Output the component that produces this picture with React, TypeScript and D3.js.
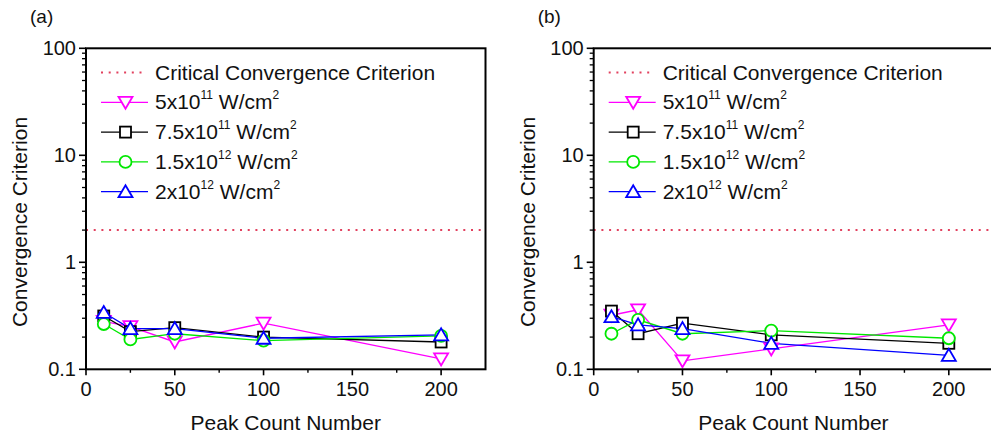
import React from 'react';
import * as d3 from 'd3';

// ---- data ----
const peakCounts = [10, 25, 50, 100, 200];
const xMajorTicks = [0, 50, 100, 150, 200];
const xMinorTicks = [25, 75, 125, 175];
const yMajorTicks = [0.1, 1, 10, 100];
const yTickLabels = ['0.1', '1', '10', '100'];
const criticalValue = 2;

const seriesKeys = ['5e11', '7.5e11', '1.5e12', '2e12'];
const seriesMantissa = ['5', '7.5', '1.5', '2'];
const seriesExponent = ['11', '11', '12', '12'];
const seriesColors = ['#ff00ff', '#000000', '#00e800', '#0000ff'];
const seriesMarkers = ['down', 'square', 'circle', 'up'];

const panelA_5e11 = [0.28, 0.25, 0.18, 0.27, 0.125];
const panelA_7_5e11 = [0.315, 0.225, 0.245, 0.2, 0.18];
const panelA_1_5e12 = [0.265, 0.19, 0.215, 0.185, 0.205];
const panelA_2e12 = [0.34, 0.24, 0.24, 0.195, 0.21];

const panelB_5e11 = [0.32, 0.36, 0.12, 0.155, 0.26];
const panelB_7_5e11 = [0.35, 0.215, 0.27, 0.21, 0.175];
const panelB_1_5e12 = [0.215, 0.29, 0.215, 0.23, 0.195];
const panelB_2e12 = [0.31, 0.26, 0.24, 0.175, 0.135];

const panels = [
  { label: '(a)', left: 86, series: [panelA_5e11, panelA_7_5e11, panelA_1_5e12, panelA_2e12] },
  { label: '(b)', left: 593.7, series: [panelB_5e11, panelB_7_5e11, panelB_1_5e12, panelB_2e12] },
];

const FONT = '"Liberation Sans", Arial, Helvetica, sans-serif';
const TOP = 48.3;
const BOTTOM = 369.3;
const PLOT_W = 399.5;
const CRIT_COLOR = '#e2405e';

function Marker({ type, x, y, color }: { type: string; x: number; y: number; color: string }) {
  const sw = 1.8;
  if (type === 'square') {
    return <rect x={x - 5.5} y={y - 5.5} width={11} height={11} fill="#fff" stroke={color} strokeWidth={sw} />;
  }
  if (type === 'circle') {
    return <circle cx={x} cy={y} r={6} fill="#fff" stroke={color} strokeWidth={sw} />;
  }
  if (type === 'down') {
    return (
      <polygon
        points={`${x - 7},${y - 5.5} ${x + 7},${y - 5.5} ${x},${y + 6.5}`}
        fill="#fff"
        stroke={color}
        strokeWidth={sw}
        strokeLinejoin="miter"
      />
    );
  }
  return (
    <polygon
      points={`${x - 7},${y + 5.5} ${x + 7},${y + 5.5} ${x},${y - 6.5}`}
      fill="#fff"
      stroke={color}
      strokeWidth={sw}
    />
  );
}

function Panel({ p }: { p: (typeof panels)[number] }) {
  const x = d3.scaleLinear().domain([0, 225]).range([p.left, p.left + PLOT_W]);
  const y = d3.scaleLog().domain([0.1, 100]).range([BOTTOM, TOP]);
  const yMinor: number[] = [];
  [0.1, 1, 10].forEach((d) => {
    for (let k = 2; k <= 9; k++) yMinor.push(k * d);
  });
  const line = d3
    .line<number>()
    .x((_, i) => x(peakCounts[i]))
    .y((v) => y(v));
  const legX0 = p.left + 15;
  const legX1 = p.left + 62;
  const legMid = (legX0 + legX1) / 2 + 1;
  const textX = p.left + 69;
  const rowY = (i: number) => 72.5 + i * 29.8;
  const centerX = p.left + PLOT_W / 2;

  return (
    <g fontFamily={FONT} fill="#111">
      <text x={p.left - 56} y={23} fontSize={19}>
        {p.label}
      </text>
      {/* critical line */}
      <line
        x1={p.left}
        x2={p.left + PLOT_W}
        y1={y(criticalValue)}
        y2={y(criticalValue)}
        stroke={CRIT_COLOR}
        strokeWidth={2}
        strokeDasharray="2 5.7"
      />
      {/* series lines */}
      {p.series.map((vals, si) => (
        <path key={'l' + si} d={line(vals) || ''} fill="none" stroke={seriesColors[si]} strokeWidth={1.3} />
      ))}
      {p.series.map((vals, si) =>
        vals.map((v, i) => (
          <Marker key={'m' + si + '-' + i} type={seriesMarkers[si]} x={x(peakCounts[i])} y={y(v)} color={seriesColors[si]} />
        ))
      )}
      {/* frame */}
      <rect x={p.left} y={TOP} width={PLOT_W} height={BOTTOM - TOP} fill="none" stroke="#000" strokeWidth={2} />
      {/* x ticks */}
      {xMajorTicks.map((t) => (
        <g key={'xt' + t}>
          <line x1={x(t)} x2={x(t)} y1={BOTTOM} y2={BOTTOM + 6} stroke="#000" strokeWidth={1.6} />
          <text x={x(t)} y={396} fontSize={20} textAnchor="middle">
            {t}
          </text>
        </g>
      ))}
      {xMinorTicks.map((t) => (
        <line key={'xm' + t} x1={x(t)} x2={x(t)} y1={BOTTOM} y2={BOTTOM + 3.5} stroke="#000" strokeWidth={1.4} />
      ))}
      {/* y ticks */}
      {yMajorTicks.map((t, i) => (
        <g key={'yt' + t}>
          <line x1={p.left - 7} x2={p.left} y1={y(t)} y2={y(t)} stroke="#000" strokeWidth={1.6} />
          <text x={p.left - 10} y={y(t) + 7} fontSize={20} textAnchor="end">
            {yTickLabels[i]}
          </text>
        </g>
      ))}
      {yMinor.map((t) => (
        <line key={'ym' + t} x1={p.left - 4} x2={p.left} y1={y(t)} y2={y(t)} stroke="#000" strokeWidth={1.3} />
      ))}
      {/* axis titles */}
      <text x={centerX} y={430} fontSize={21} textAnchor="middle">
        Peak Count Number
      </text>
      <text transform={`translate(${p.left - 59},222) rotate(-90)`} fontSize={21} textAnchor="middle">
        Convergence Criterion
      </text>
      {/* legend */}
      <line x1={legX0} x2={legX1 - 1} y1={rowY(0)} y2={rowY(0)} stroke={CRIT_COLOR} strokeWidth={2} strokeDasharray="2 5.7" />
      <text x={textX} y={rowY(0) + 7} fontSize={21}>
        Critical Convergence Criterion
      </text>
      {seriesKeys.map((k, si) => (
        <g key={'lg' + k}>
          <line x1={legX0} x2={legX1} y1={rowY(si + 1)} y2={rowY(si + 1)} stroke={seriesColors[si]} strokeWidth={1.3} />
          <Marker type={seriesMarkers[si]} x={legMid} y={rowY(si + 1)} color={seriesColors[si]} />
          <text x={textX} y={rowY(si + 1) + 7} fontSize={21}>
            {seriesMantissa[si] + 'x10'}
            <tspan fontSize={12} dy={-10}>
              {seriesExponent[si]}
            </tspan>
            <tspan dy={10}>{' W/cm'}</tspan>
            <tspan fontSize={12} dy={-10}>
              2
            </tspan>
          </text>
        </g>
      ))}
    </g>
  );
}

export default function App() {
  return (
    <svg
      width={991}
      height={437}
      viewBox="0 0 991 437"
      style={{ position: 'absolute', left: 0, top: 0, background: '#fff' }}
    >
      <rect x={0} y={0} width={991} height={437} fill="#fff" />
      {panels.map((p) => (
        <Panel key={p.label} p={p} />
      ))}
    </svg>
  );
}
